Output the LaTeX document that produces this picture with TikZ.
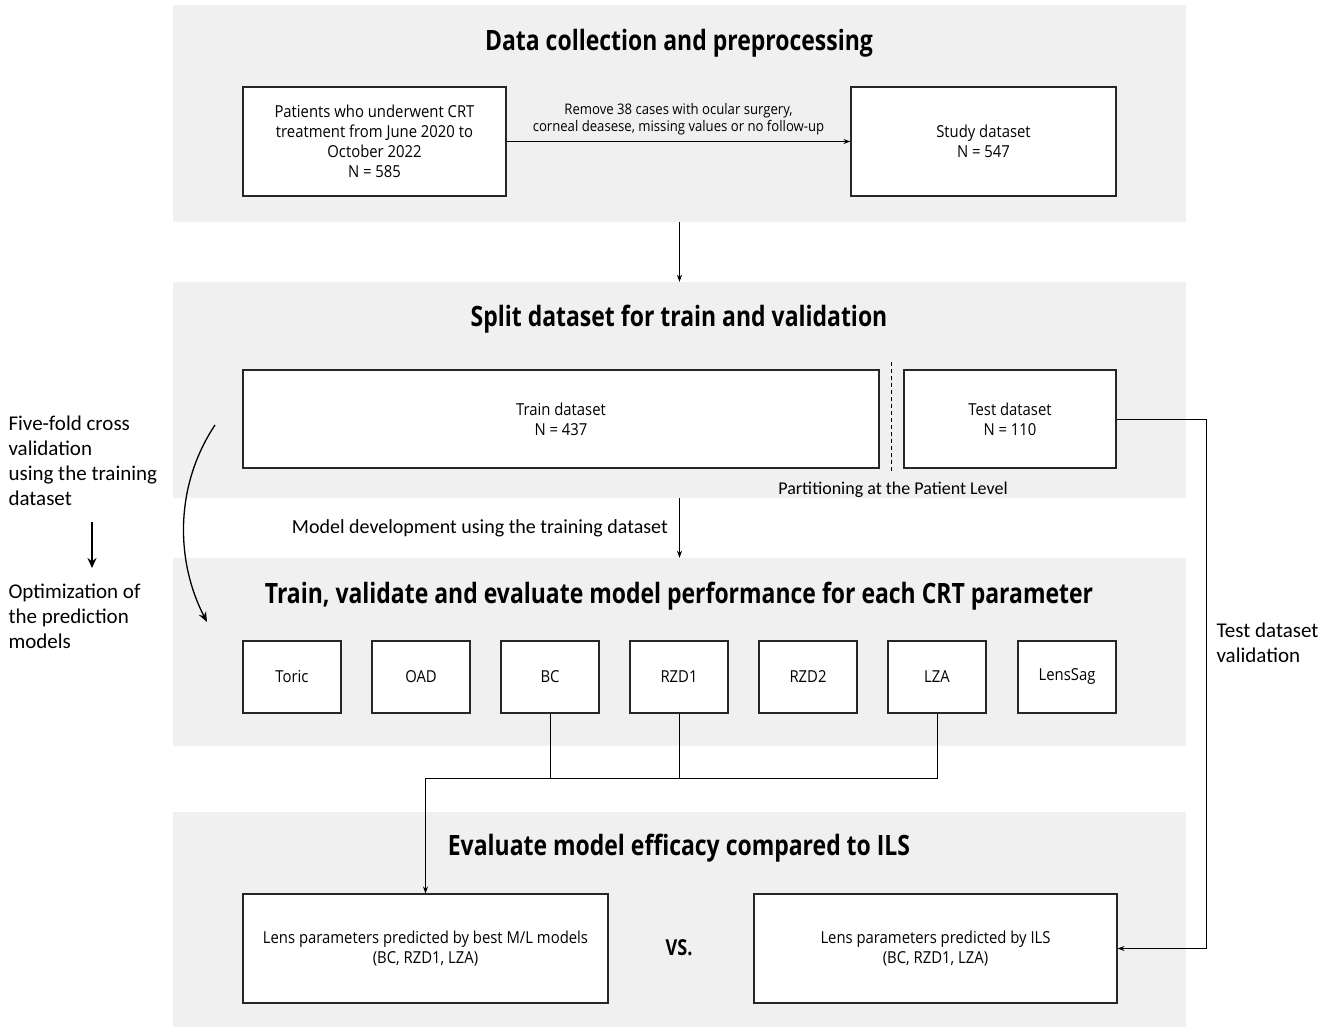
\documentclass[tikz,border=0pt]{standalone}
\usepackage{fontspec}
\usetikzlibrary{arrows.meta}
\setmainfont{Open Sans}
\newfontfamily\condf[FakeStretch=0.9]{Open Sans}
\newfontfamily\condt[FakeStretch=0.82]{Open Sans}
\newfontfamily\cali{Carlito}
\begin{document}
\begin{tikzpicture}[x=1pt,y=-1pt,
  panel/.style={fill=gray!12,draw=none,inner sep=0pt},
  box/.style={draw=black!85,fill=white,line width=1.1pt,inner sep=2pt,align=center,font=\condf\fontsize{16.5}{20}\selectfont},
  pbox/.style={box,minimum width=98pt,minimum height=72pt},
  ttl/.style={font=\condt\bfseries\fontsize{28}{32}\selectfont},
  side/.style={font=\cali\fontsize{21}{25}\selectfont,align=left},
  lbl/.style={font=\cali\fontsize{18}{22}\selectfont},
  conn/.style={line width=0.8pt},
  arr/.style={conn,-{Stealth[length=7pt,width=5pt]}}
]
\useasboundingbox (0,0) rectangle (1336,1027);
\fill[white] (0,0) rectangle (1336,1027);
% panels
\node[panel,minimum width=1013pt,minimum height=217pt] (pan1) at (679.5,113.5) {};
\node[panel,minimum width=1013pt,minimum height=216pt] (pan2) at (679.5,390) {};
\node[panel,minimum width=1013pt,minimum height=188pt] (pan3) at (679.5,652) {};
\node[panel,minimum width=1013pt,minimum height=215pt] (pan4) at (679.5,919.5) {};
% titles
\node[ttl] (t1) at (679,43) {Data collection and preprocessing};
\node[ttl] (t2) at (679,319) {Split dataset for train and validation};
\node[ttl] (t3) at (679,596) {Train, validate and evaluate model performance for each CRT parameter};
\node[ttl] (t4) at (679,848) {Evaluate model efficacy compared to ILS};
% panel 1
\node[box,minimum width=263pt,minimum height=109pt] (pat) at (374.5,141.5) {Patients who underwent CRT\\treatment from June 2020 to\\October 2022\\N = 585};
\node[box,minimum width=265pt,minimum height=109pt] (sd) at (983.5,141.5) {Study dataset\\N = 547};
\draw[arr] (pat.east) -- (sd.west) node[midway,above=3pt,align=center,font=\condf\fontsize{14.6}{17}\selectfont] {Remove 38 cases with ocular surgery,\\corneal deasese, missing values or no follow-up};
\draw[arr] (pan1.south) -- (pan2.north);
% panel 2
\node[box,minimum width=636pt,minimum height=98pt] (train) at (561,419) {Train dataset\\N = 437};
\node[box,minimum width=212pt,minimum height=98pt] (test) at (1010,419) {Test dataset\\N = 110};
\coordinate (d1) at (891,362);
\coordinate (d2) at (891,471);
\draw[conn,line width=0.7pt,dash pattern=on 4pt off 3pt] (d1) -- (d2);
\node[lbl] (part) at (893,490) {Partitioning at the Patient Level};
\draw[arr] (pan2.south) -- (pan3.north) node[midway,left=8pt,lbl,font=\cali\fontsize{20}{22}\selectfont] (mdev) {Model development using the training dataset};
% panel 3 params
\node[pbox] (toric) at (292,677) {Toric};
\node[pbox] (oad) at (421,677) {OAD};
\node[pbox] (bc) at (550,677) {BC};
\node[pbox] (rzd1) at (679,677) {RZD1};
\node[pbox] (rzd2) at (808,677) {RZD2};
\node[pbox] (lza) at (937,677) {LZA};
\node[pbox] (lens) at (1067,677) {LensSag};
% panel 4
\node[box,minimum width=365pt,minimum height=109pt] (ml) at (425.5,948.5) {Lens parameters predicted by best M/L models\\(BC, RZD1, LZA)};
\node[box,minimum width=363pt,minimum height=109pt] (ils) at (935.5,948.5) {Lens parameters predicted by ILS\\(BC, RZD1, LZA)};
\node[font=\condt\bfseries\fontsize{22}{24}\selectfont] (vs) at (679,948) {VS.};
% merge connectors
\coordinate (jl) at (425.5,778);
\coordinate (jr) at (937,778);
\draw[conn] (bc.south) -- (bc.south |- jl);
\draw[conn] (rzd1.south) -- (rzd1.south |- jl);
\draw[conn] (lza.south) -- (jr) -- (jl);
\draw[arr] (jl) -- (ml.north);
% test validation
\coordinate (tr) at (1206,419);
\draw[arr] (test.east) -- (tr) -- (tr |- ils.east) -- (ils.east);
\node[side,anchor=north west] (tdv) at (1213,619) {Test dataset\\validation};
% left side
\node[side,anchor=north west] (five) at (5,412) {Five-fold cross\\validation\\using the training\\dataset};
\node[side,anchor=north west] (opt) at (5,580) {Optimization of\\the prediction\\models};
\coordinate (la1) at (92,522);
\coordinate (la2) at (92,568);
\draw[line width=1.6pt,-{Stealth[length=10pt,width=9pt]}] (la1) -- (la2);
\coordinate (c1) at (215,425);
\coordinate (c2) at (207,622);
\draw[line width=1.3pt,-{Stealth[length=10pt,width=8pt]}] (c1) .. controls (175,485) and (175,560) .. (c2);
\end{tikzpicture}
\end{document}
